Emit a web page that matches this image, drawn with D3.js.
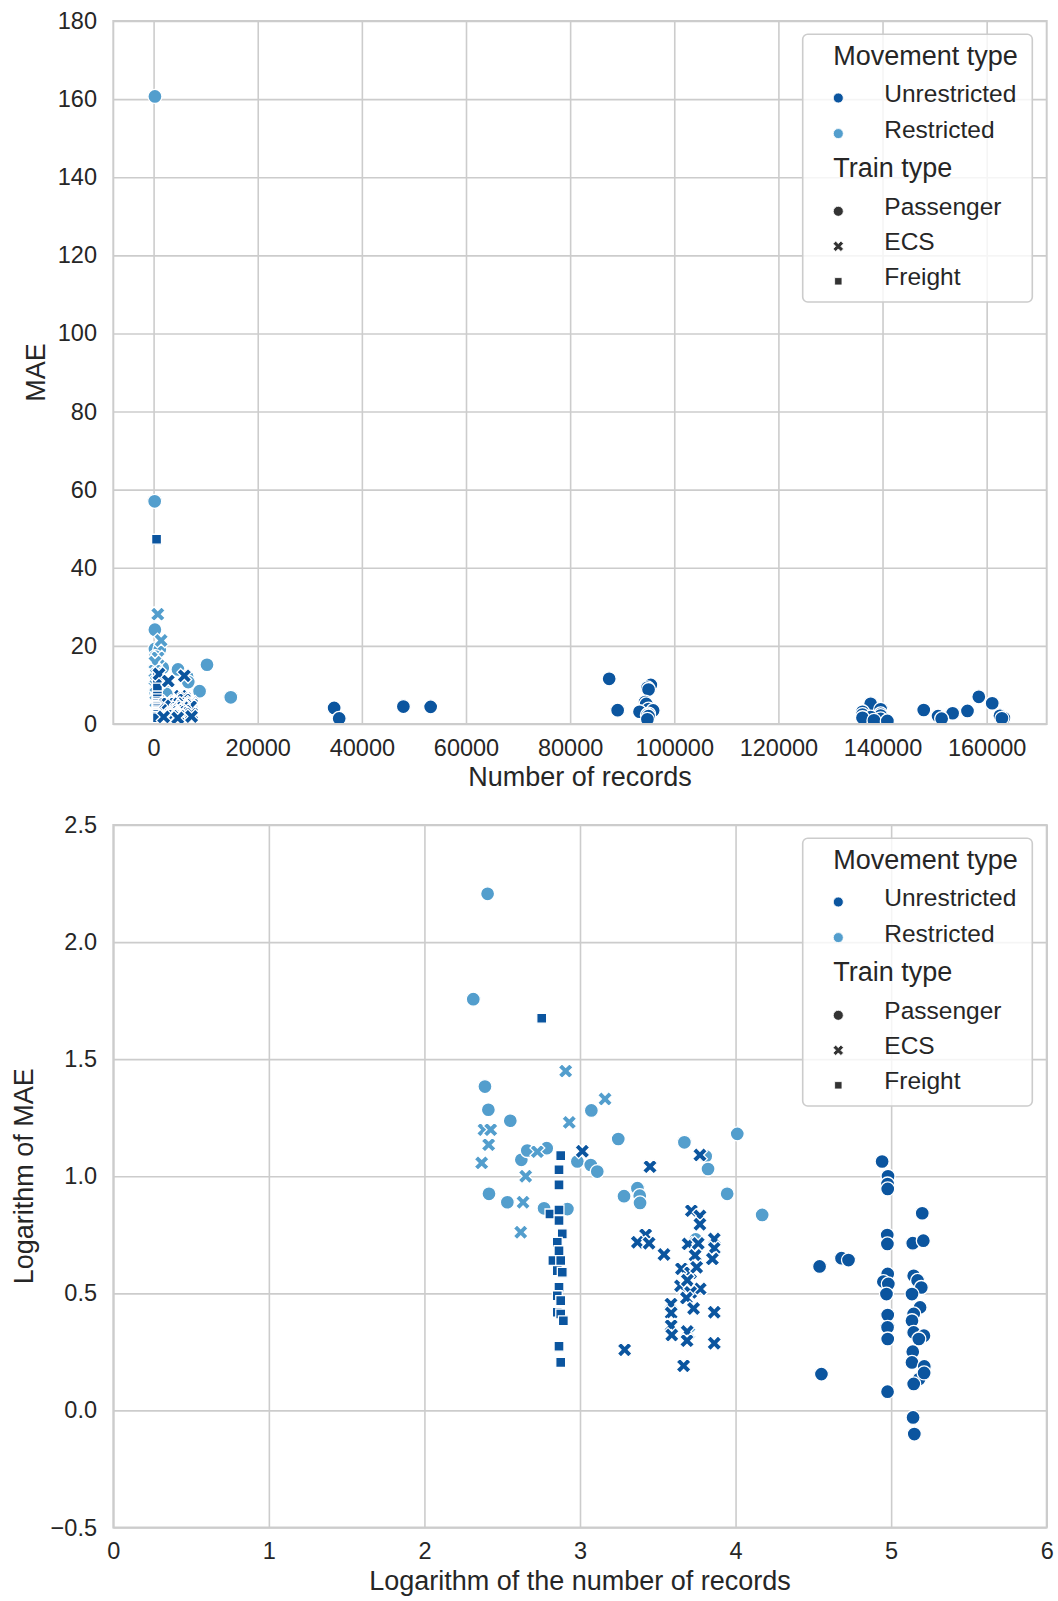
<!DOCTYPE html>
<html><head><meta charset="utf-8">
<script src="https://cdn.jsdelivr.net/npm/d3@7"></script>
<style>
body{margin:0;background:#fff;}
svg{display:block;}
text{font-family:"Liberation Sans",Arial,Helvetica,sans-serif;fill:#262626;}
</style>
</head><body>
<svg id="chart" width="1058" height="1601"></svg>
<script>
// ---------------- DATA ([log10 records, log10 MAE]) ----------------
const movementTypes = ["Unrestricted", "Restricted"];
const trainTypes = ["Passenger", "ECS", "Freight"];

const restrictedPassenger = [
  [2.406,2.206],[2.314,1.756],[2.389,1.383],[2.411,1.284],[3.073,1.281],[2.552,1.237],[3.246,1.159],
  [3.671,1.145],[2.623,1.070],[2.661,1.110],[2.786,1.120],[2.983,1.063],[3.069,1.048],[3.111,1.020],
  [3.808,1.085],[3.823,1.031],[2.415,0.925],[2.533,0.889],[2.769,0.863],[2.919,0.860],[3.283,0.915],
  [3.369,0.949],[3.384,0.917],[3.386,0.886],[4.011,1.181],[3.946,0.925],[4.171,0.835],[3.744,0.730]
];
const restrictedECS = [
  [2.908,1.449],[3.161,1.330],[2.931,1.230],[2.383,1.199],[2.426,1.199],[2.413,1.135],[2.368,1.057],
  [2.651,1.000],[2.726,1.105],[2.634,0.889],[2.619,0.761],[3.655,0.600],[3.700,0.330]
];
const unrestrictedFreight = [
  [2.754,1.675],[2.876,1.088],[2.865,1.028],[2.865,0.963],[2.807,0.839],[2.865,0.856],[2.865,0.811],
  [2.886,0.754],[2.854,0.718],[2.865,0.682],[2.826,0.640],[2.876,0.640],[2.854,0.597],[2.886,0.590],
  [2.865,0.526],[2.854,0.490],[2.876,0.469],[2.854,0.419],[2.876,0.412],[2.893,0.383],[2.865,0.274],
  [2.876,0.205]
];
const unrestrictedECS = [
  [3.015,1.107],[3.450,1.041],[3.771,1.091],[3.716,0.853],[3.771,0.830],[3.771,0.795],[3.422,0.750],
  [3.369,0.718],[3.444,0.714],[3.540,0.666],[3.695,0.711],[3.760,0.713],[3.863,0.732],[3.863,0.692],
  [3.740,0.662],[3.851,0.647],[3.652,0.605],[3.711,0.588],[3.750,0.611],[3.646,0.532],[3.690,0.556],
  [3.773,0.519],[3.711,0.504],[3.684,0.480],[3.730,0.435],[3.585,0.454],[3.586,0.416],[3.586,0.362],
  [3.590,0.322],[3.689,0.337],[3.688,0.298],[3.863,0.419],[3.863,0.287],[3.287,0.259],[3.666,0.191]
];
const unrestrictedPassenger = [
  [4.540,0.615],[4.552,0.155],[4.681,0.650],[4.726,0.642],
  [4.942,1.063],[4.980,1.000],[4.977,0.967],[4.978,0.946],[4.975,0.749],[4.976,0.711],[4.978,0.583],
  [4.950,0.550],[4.982,0.540],[4.970,0.497],[4.978,0.407],[4.977,0.355],[4.978,0.305],[4.977,0.080],
  [5.200,0.842],[5.139,0.714],[5.207,0.725],[5.145,0.575],[5.170,0.555],[5.194,0.525],[5.134,0.497],
  [5.186,0.440],[5.145,0.412],[5.134,0.383],[5.145,0.333],[5.211,0.319],[5.178,0.305],[5.139,0.251],
  [5.134,0.205],[5.213,0.188],[5.180,0.134],[5.145,0.113],[5.212,0.160],[5.141,-0.030],[5.149,-0.101]
];

const topXTicks = [0,20000,40000,60000,80000,100000,120000,140000,160000];
const topYTicks = [0,20,40,60,80,100,120,140,160,180];
const botXTicks = [0,1,2,3,4,5,6];
const botYTicks = [-0.5,0,0.5,1.0,1.5,2.0,2.5];

// series in drawing order (restricted first, unrestricted on top)
const series = [
  {movement:"Restricted", train:"Passenger", pts:restrictedPassenger},
  {movement:"Restricted", train:"ECS", pts:restrictedECS},
  {movement:"Unrestricted", train:"Freight", pts:unrestrictedFreight},
  {movement:"Unrestricted", train:"ECS", pts:unrestrictedECS},
  {movement:"Unrestricted", train:"Passenger", pts:unrestrictedPassenger}
];

// ---------------- STYLE ----------------
const color = d3.scaleOrdinal().domain(movementTypes).range(["#0b559f","#539ecd"]);
const GRID = "#cccccc";
const svg = d3.select("#chart");

function shapePath(type, s) {
  if (type === "Passenger") {
    return d3.symbol().type(d3.symbolCircle).size(Math.PI*(s/2)*(s/2))();
  }
  if (type === "ECS") {
    const k = s/4;
    const v = [[-1,-2],[0,-1],[1,-2],[2,-1],[1,0],[2,1],[1,2],[0,1],[-1,2],[-2,1],[-1,0],[-2,-1]];
    return "M" + v.map(p => (p[0]*k).toFixed(2)+","+(p[1]*k).toFixed(2)).join("L") + "Z";
  }
  const h = s*0.707/2;
  return `M${-h},${-h}L${h},${-h}L${h},${h}L${-h},${h}Z`;
}
const markerSize = {Passenger:14, ECS:14.8, Freight:14};

function panel(cfg) {
  const {x, y, xTicks, yTicks, xFmt, yFmt, xLabel, yLabel, yLabelX, toX, toY} = cfg;
  const [L, R] = x.range();
  const [B, T] = y.range();
  const g = svg.append("g");

  // grid
  g.append("g").attr("transform",`translate(0,${B})`)
    .call(d3.axisBottom(x).tickValues(xTicks).tickSize(-(B-T)).tickFormat(""))
    .call(a => { a.select(".domain").remove(); a.selectAll("line").attr("stroke",GRID).attr("stroke-width",1.6); });
  g.append("g").attr("transform",`translate(${L},0)`)
    .call(d3.axisLeft(y).tickValues(yTicks).tickSize(-(R-L)).tickFormat(""))
    .call(a => { a.select(".domain").remove(); a.selectAll("line").attr("stroke",GRID).attr("stroke-width",1.6); });

  // tick labels
  g.append("g").attr("transform",`translate(0,${B})`)
    .call(d3.axisBottom(x).tickValues(xTicks).tickSize(0).tickPadding(15.3).tickFormat(xFmt))
    .call(a => { a.select(".domain").remove(); a.selectAll("text").attr("font-size",23.5).attr("fill","#262626").attr("font-family",null); });
  g.append("g").attr("transform",`translate(${L},0)`)
    .call(d3.axisLeft(y).tickValues(yTicks).tickSize(0).tickPadding(16.3).tickFormat(yFmt))
    .call(a => { a.select(".domain").remove(); a.selectAll("text").attr("font-size",23.5).attr("fill","#262626").attr("font-family",null); });

  // axis labels
  g.append("text").attr("x",(L+R)/2).attr("y",B+62).attr("text-anchor","middle")
    .attr("font-size",27).text(xLabel);
  g.append("text").attr("transform",`translate(${yLabelX},${(T+B)/2}) rotate(-90)`)
    .attr("text-anchor","middle").attr("font-size",27).text(yLabel);

  // points
  const clipId = "clip" + Math.round(T);
  g.append("clipPath").attr("id",clipId).append("rect").attr("x",L).attr("y",T).attr("width",R-L).attr("height",B-T);
  const pg = g.append("g").attr("clip-path",`url(#${clipId})`);
  series.forEach(sr => {
    pg.selectAll(null).data(sr.pts).enter().append("path")
      .attr("d", shapePath(sr.train, markerSize[sr.train]))
      .attr("transform", d => `translate(${x(toX(d[0]))},${y(toY(d[1]))})`)
      .attr("fill", color(sr.movement))
      .attr("stroke","#ffffff").attr("stroke-width",1.3);
  });

  // spines
  g.append("rect").attr("x",L).attr("y",T).attr("width",R-L).attr("height",B-T)
    .attr("fill","none").attr("stroke",GRID).attr("stroke-width",2);

  // legend
  const lx = 802.7, ly = T + 13.3;
  const lg = g.append("g");
  lg.append("rect").attr("x",lx).attr("y",ly).attr("width",229.6).attr("height",267.7)
    .attr("rx",5).attr("fill","#ffffff").attr("fill-opacity",0.8).attr("stroke",GRID).attr("stroke-width",1.6);
  const rows = [
    {t:"Movement type", title:true, dy:31},
    {t:movementTypes[0], dy:67.7, fill:color(movementTypes[0]), shape:"Passenger", s:10},
    {t:movementTypes[1], dy:103.3, fill:color(movementTypes[1]), shape:"Passenger", s:10},
    {t:"Train type", title:true, dy:142.7},
    {t:trainTypes[0], dy:181, fill:"#333333", shape:"Passenger", s:10},
    {t:trainTypes[1], dy:216, fill:"#333333", shape:"ECS", s:10.4},
    {t:trainTypes[2], dy:251, fill:"#333333", shape:"Freight", s:10.4}
  ];
  rows.forEach(r => {
    if (r.title) {
      lg.append("text").attr("x",lx+30.6).attr("y",ly+r.dy).attr("font-size",27).text(r.t);
    } else {
      lg.append("path").attr("d",shapePath(r.shape,r.s))
        .attr("transform",`translate(${lx+35.6},${ly+r.dy-4})`)
        .attr("fill",r.fill).attr("stroke","#ffffff").attr("stroke-width",0.8);
      lg.append("text").attr("x",lx+81.6).attr("y",ly+r.dy).attr("font-size",24.5).text(r.t);
    }
  });
}

// Top panel: raw values
panel({
  x: d3.scaleLinear().domain([-7740,171530]).range([113.3,1046.7]),
  y: d3.scaleLinear().domain([0,180]).range([724,21]),
  xTicks: topXTicks, yTicks: topYTicks,
  xFmt: d3.format("d"), yFmt: d3.format("d"),
  xLabel: "Number of records", yLabel: "MAE", yLabelX: 44.5,
  toX: v => Math.pow(10, v), toY: v => Math.pow(10, v)
});

// Bottom panel: log10 values
panel({
  x: d3.scaleLinear().domain([0,6]).range([113.3,1046.7]),
  y: d3.scaleLinear().domain([-0.5,2.5]).range([1527.5,825]),
  xTicks: botXTicks, yTicks: botYTicks,
  xFmt: d3.format("d"), yFmt: d3.format(".1f"),
  xLabel: "Logarithm of the number of records", yLabel: "Logarithm of MAE", yLabelX: 33,
  toX: v => v, toY: v => v
});
</script>
</body></html>
